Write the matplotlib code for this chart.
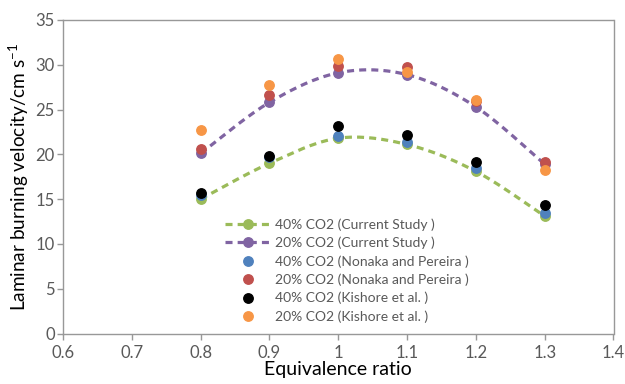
import numpy as np
import matplotlib
matplotlib.use('Agg')
import matplotlib.pyplot as plt

plt.rcParams['font.family'] = ['Lato', 'DejaVu Sans']
plt.rcParams['mathtext.fontset'] = 'custom'
plt.rcParams['mathtext.rm'] = 'Lato'

phi = [0.8, 0.9, 1.0, 1.1, 1.2, 1.3]

cur_40 = [15.0, 19.0, 21.8, 21.1, 18.1, 13.1]
cur_20 = [20.1, 25.8, 29.1, 28.9, 25.3, 18.9]
nonaka_40 = [15.5, 19.7, 22.0, 21.4, 18.5, 13.4]
nonaka_20 = [20.6, 26.6, 29.9, 29.8, 26.0, 19.2]
kishore_40 = [15.7, 19.8, 23.2, 22.2, 19.2, 14.3]
kishore_20 = [22.7, 27.7, 30.6, 29.2, 26.1, 18.3]

x_ticks = [0.6, 0.7, 0.8, 0.9, 1.0, 1.1, 1.2, 1.3, 1.4]
y_ticks = [0, 5, 10, 15, 20, 25, 30, 35]

GREEN = '#9BBB59'
PURPLE = '#8064A2'
BLUE = '#4F81BD'
RED = '#C0504D'
ORANGE = '#F79646'
GRAY = '#595959'


def smooth(x, y, n=30):
    # excel-like smoothed line (catmull-rom as bezier segments)
    x = np.asarray(x, float)
    y = np.asarray(y, float)
    P = np.column_stack([x, y])
    P = np.vstack([P[0], P, P[-1]])
    out = []
    t = np.linspace(0, 1, n)[:, None]
    for i in range(1, len(P) - 2):
        p0, p1, p2, p3 = P[i - 1], P[i], P[i + 1], P[i + 2]
        c1 = p1 + (p2 - p0) / 6.0
        c2 = p2 - (p3 - p1) / 6.0
        seg = ((1 - t) ** 3) * p1 + 3 * ((1 - t) ** 2) * t * c1 + 3 * (1 - t) * t ** 2 * c2 + t ** 3 * p2
        out.append(seg if i == 1 else seg[1:])
    out = np.vstack(out)
    return out[:, 0], out[:, 1]


fig = plt.figure(figsize=(6.25, 3.84), dpi=100)
ax = fig.add_axes([0.1008, 0.1315, 0.8808, 0.8165])

ms = 6.8
lw = 2.3
for yv, c, lab in [(cur_40, GREEN, '40% CO2 (Current Study )'),
                   (cur_20, PURPLE, '20% CO2 (Current Study )')]:
    sx, sy = smooth(phi, yv)
    ax.plot(sx, sy, color=c, lw=lw, dashes=(2.2, 1.6), zorder=2)
    ax.plot(phi, yv, 'o', color=c, ms=ms, zorder=3)
    ax.plot([], [], color=c, lw=lw, dashes=(2.2, 1.6), marker='o', ms=ms, label=lab)

for yv, c, lab in [(nonaka_40, BLUE, '40% CO2 (Nonaka and Pereira )'),
                   (nonaka_20, RED, '20% CO2 (Nonaka and Pereira )'),
                   (kishore_40, 'black', '40% CO2 (Kishore et al. )'),
                   (kishore_20, ORANGE, '20% CO2 (Kishore et al. )')]:
    ax.plot(phi, yv, 'o', color=c, ms=ms, zorder=4, label=lab)

ax.set_xlim(0.6, 1.4)
ax.set_ylim(0, 35)
ax.set_xticks(x_ticks)
ax.set_xticklabels(['%g' % v for v in x_ticks])
ax.set_yticks(y_ticks)

for s in ax.spines.values():
    s.set_color('#989898')
    s.set_linewidth(1.0)
ax.tick_params(axis='both', colors='#989898', labelcolor=GRAY, labelsize=12, length=4, width=1)
ax.tick_params(axis='x', pad=4)
ax.tick_params(axis='y', pad=2)

ax.set_xlabel('Equivalence ratio', fontsize=14, color='black', labelpad=0)
ax.set_ylabel('Laminar burning velocity/cm s$^{-1}$', fontsize=13.7, color='black', labelpad=3)

leg = ax.legend(loc='upper left', bbox_to_anchor=(0.285, 0.385), frameon=False,
                fontsize=10, handlelength=3.3, handletextpad=0.3, labelspacing=0.42,
                borderaxespad=0)
for t in leg.get_texts():
    t.set_color(GRAY)

fig.savefig('out.png', dpi=100)
